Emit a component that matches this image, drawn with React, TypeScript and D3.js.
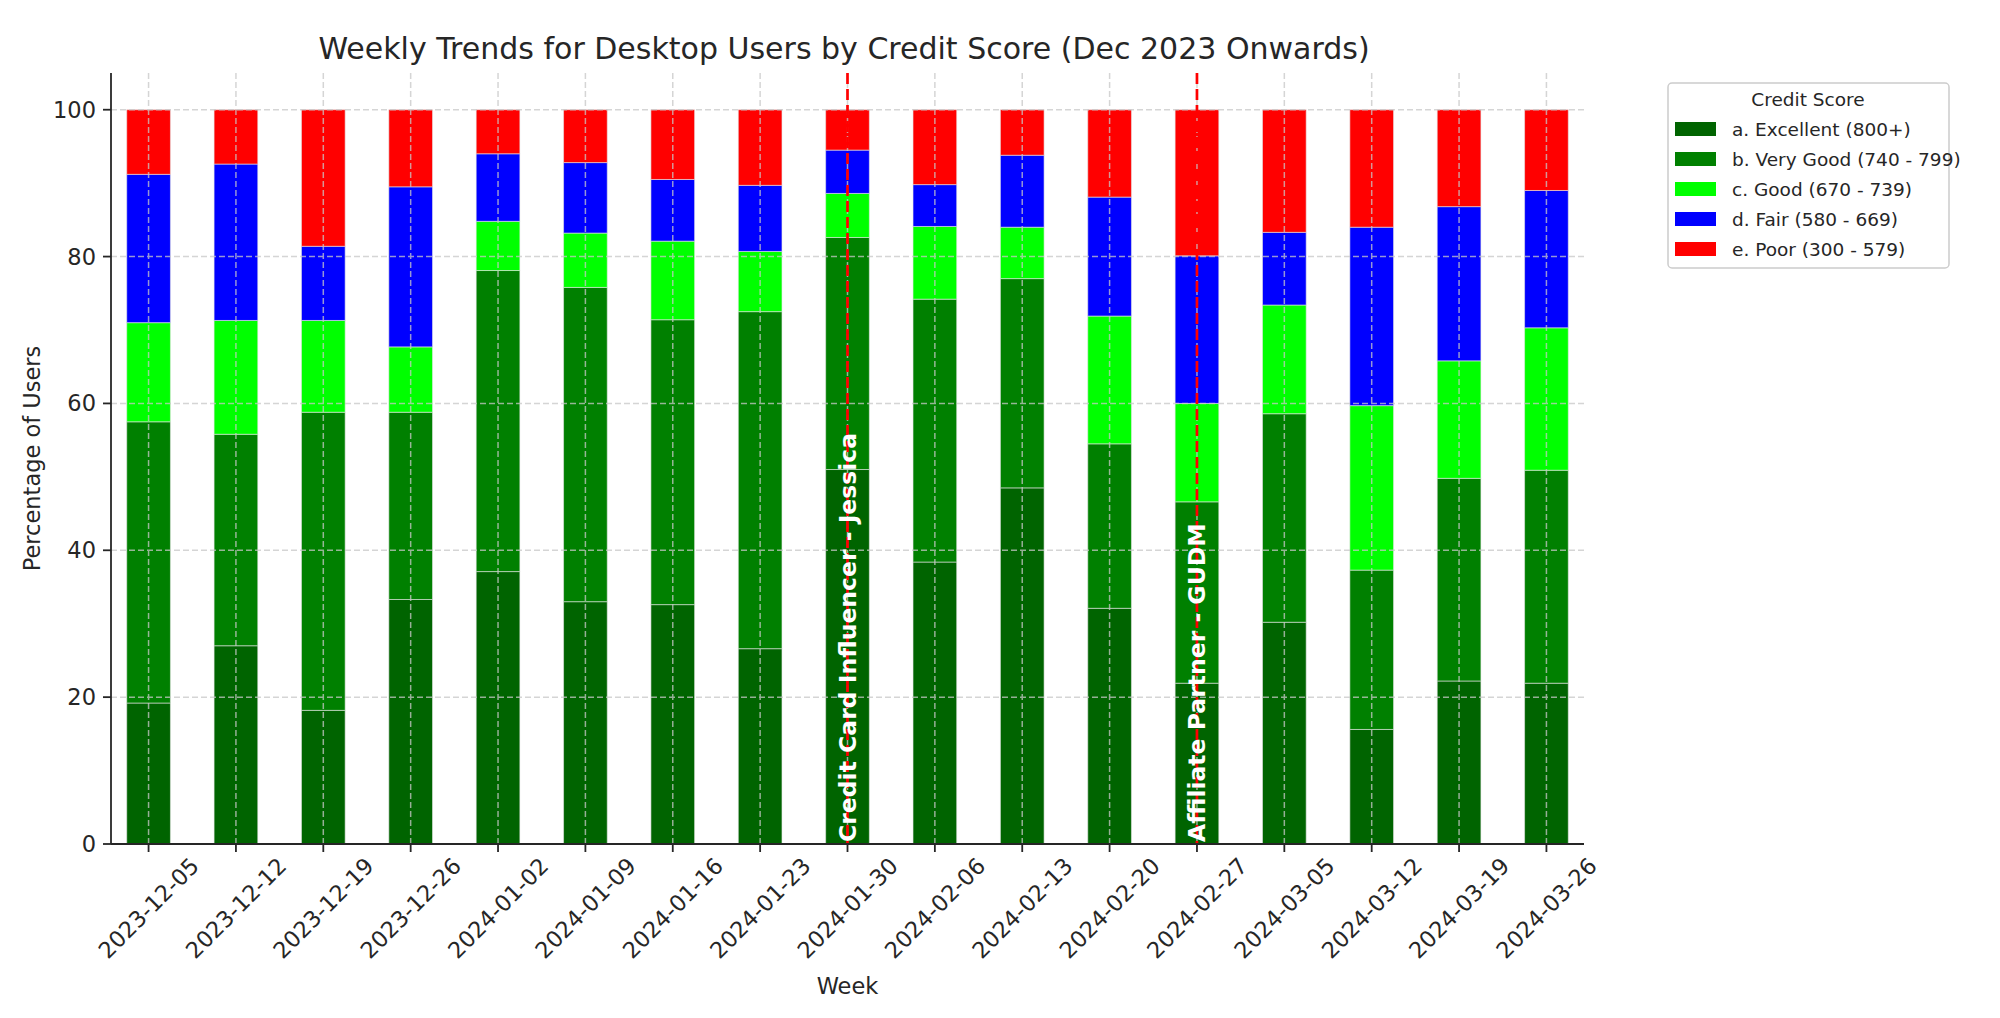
import { scaleLinear, stack } from "d3";

const weeks = [
  "2023-12-05", "2023-12-12", "2023-12-19", "2023-12-26", "2024-01-02", "2024-01-09",
  "2024-01-16", "2024-01-23", "2024-01-30", "2024-02-06", "2024-02-13", "2024-02-20",
  "2024-02-27", "2024-03-05", "2024-03-12", "2024-03-19", "2024-03-26",
];

const categories = [
  "a. Excellent (800+)",
  "b. Very Good (740 - 799)",
  "c. Good (670 - 739)",
  "d. Fair (580 - 669)",
  "e. Poor (300 - 579)",
];

const excellent = [19.2, 27.0, 18.2, 33.3, 37.1, 33.0, 32.6, 26.6, 51.0, 38.4, 48.5, 32.1, 21.9, 30.2, 15.6, 22.2, 21.9];
const veryGood = [38.3, 28.8, 40.6, 25.5, 41.0, 42.8, 38.8, 45.9, 31.6, 35.8, 28.5, 22.4, 24.7, 28.4, 21.7, 27.6, 29.0];
const good = [13.5, 15.5, 12.5, 8.9, 6.7, 7.4, 10.7, 8.2, 6.0, 9.9, 7.0, 17.4, 13.4, 14.8, 22.4, 16.0, 19.4];
const fair = [20.2, 21.3, 10.1, 21.8, 9.2, 9.6, 8.4, 9.0, 5.9, 5.7, 9.8, 16.2, 20.1, 9.9, 24.3, 21.0, 18.7];
const poor = [8.8, 7.4, 18.6, 10.5, 6.0, 7.2, 9.5, 10.3, 5.5, 10.2, 6.2, 11.9, 19.9, 16.7, 16.0, 13.2, 11.0];

const yTicks = [0, 20, 40, 60, 80, 100];

const events = [
  { week: "2024-01-30", label: "Credit Card Influencer - Jessica" },
  { week: "2024-02-27", label: "Affiliate Partner - GUDM" },
];

const colors = ["#006400", "#008000", "#00ff00", "#0000ff", "#ff0000"];

const W = 2000;
const H = 1018;
const plot = { left: 111, right: 1584, top: 73, bottom: 844 };
const FONT = "DejaVu Sans";
const TEXT = "#262626";

type Row = { week: string; [k: string]: number | string };

export default function App() {
  const series = [excellent, veryGood, good, fair, poor];
  const rows: Row[] = weeks.map((week, i) => {
    const r: Row = { week };
    categories.forEach((c, k) => {
      r[c] = series[k][i];
    });
    return r;
  });
  const stacked = stack<Row>().keys(categories)(rows);

  const x = scaleLinear().domain([-0.43, weeks.length - 1 + 0.43]).range([plot.left, plot.right]);
  const y = scaleLinear().domain([0, 105]).range([plot.bottom, plot.top]);
  const barW = x(0.5) - x(0);

  return (
    <svg
      width={W}
      height={H}
      viewBox={`0 0 ${W} ${H}`}
      style={{ position: "absolute", left: 0, top: 0, background: "#fff" }}
      fontFamily={FONT}
    >
      <text x={844} y={48} textAnchor="middle" dominantBaseline="central" fontSize={30} fill={TEXT}>
        Weekly Trends for Desktop Users by Credit Score (Dec 2023 Onwards)
      </text>

      {/* bars */}
      {stacked.map((layer, k) => (
        <g key={categories[k]} fill={colors[k]}>
          {layer.map((d, i) => (
            <rect
              key={weeks[i]}
              x={x(i) - barW / 2}
              y={y(d[1])}
              width={barW}
              height={y(d[0]) - y(d[1])}
              stroke="#e6e6e6"
              strokeOpacity={0.6}
              strokeWidth={1}
            />
          ))}
        </g>
      ))}

      {/* grid over the bars */}
      <g stroke="#c8c8c8" strokeWidth={1.5} strokeDasharray="6,3" opacity={0.75}>
        {yTicks.map((t) => (
          <line key={t} x1={plot.left} x2={plot.right} y1={y(t)} y2={y(t)} />
        ))}
        {weeks.map((w, i) => (
          <line key={w} x1={x(i)} x2={x(i)} y1={plot.top} y2={plot.bottom} />
        ))}
      </g>

      {/* event markers */}
      {events.map((e) => {
        const i = weeks.indexOf(e.week);
        return (
          <g key={e.week}>
            <line
              x1={x(i)}
              x2={x(i)}
              y1={plot.top}
              y2={plot.bottom}
              stroke="#ff0000"
              strokeWidth={2.7}
              strokeDasharray="11,5"
            />
            <text
              transform={`translate(${x(i)},${y(0) - 2}) rotate(-90)`}
              dy="0.36em"
              fontSize={23.5}
              fontWeight="bold"
              fill="#fff"
            >
              {e.label}
            </text>
          </g>
        );
      })}

      {/* axes */}
      <g stroke="#262626" strokeWidth={1.8}>
        <line x1={plot.left} x2={plot.left} y1={plot.top} y2={plot.bottom} />
        <line x1={plot.left} x2={plot.right} y1={plot.bottom} y2={plot.bottom} />
        {yTicks.map((t) => (
          <line key={t} x1={plot.left - 8} x2={plot.left} y1={y(t)} y2={y(t)} />
        ))}
        {weeks.map((w, i) => (
          <line key={w} x1={x(i)} x2={x(i)} y1={plot.bottom} y2={plot.bottom + 8} />
        ))}
      </g>
      {yTicks.map((t) => (
        <text
          key={t}
          x={plot.left - 15}
          y={y(t)}
          textAnchor="end"
          dominantBaseline="central"
          fontSize={22.5}
          fill={TEXT}
        >
          {t}
        </text>
      ))}
      {weeks.map((w, i) => (
        <text
          key={w}
          transform={`translate(${x(i)},${plot.bottom + 64}) rotate(-45)`}
          textAnchor="middle"
          dominantBaseline="central"
          fontSize={22.5}
          fill={TEXT}
        >
          {w}
        </text>
      ))}
      <text x={(plot.left + plot.right) / 2} y={986} textAnchor="middle" dominantBaseline="central" fontSize={22.5} fill={TEXT}>
        Week
      </text>
      <text
        transform={`translate(32,${(plot.top + plot.bottom) / 2}) rotate(-90)`}
        textAnchor="middle"
        dominantBaseline="central"
        fontSize={22.5}
        fill={TEXT}
      >
        Percentage of Users
      </text>

      {/* legend */}
      <g>
        <rect x={1668} y={83} width={281} height={185} rx={4} fill="#fff" fillOpacity={0.8} stroke="#cccccc" strokeWidth={1.5} />
        <text x={1808} y={99} textAnchor="middle" dominantBaseline="central" fontSize={18.5} fill={TEXT}>
          Credit Score
        </text>
        {categories.map((c, k) => (
          <g key={c} transform={`translate(1675,${129 + k * 30})`}>
            <rect x={0} y={-7} width={41} height={14} fill={colors[k]} />
            <text x={57} y={0} dominantBaseline="central" fontSize={18.5} fill={TEXT}>
              {c}
            </text>
          </g>
        ))}
      </g>
    </svg>
  );
}
